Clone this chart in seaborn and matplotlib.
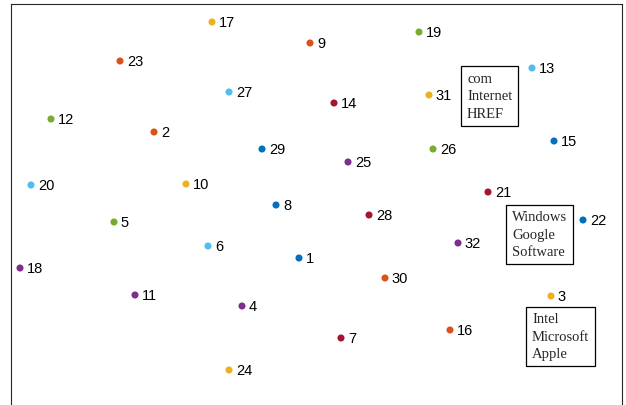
import matplotlib
matplotlib.use("Agg")
import matplotlib.pyplot as plt
import seaborn as sns
import pandas as pd

# Point ids and their positions
ids = list(range(1, 33))
x = [299, 154, 551, 242, 114, 208, 341, 276, 310, 186, 135, 51, 532, 334, 554, 450,
     212, 20, 419, 31, 488, 583, 120, 229, 348, 433, 229, 369, 262, 385, 429, 458]
y = [258, 132, 296, 306, 222, 246, 338, 205, 43, 184, 295, 119, 68, 103, 141, 330,
     22, 268, 32, 185, 192, 220, 61, 370, 162, 149, 92, 215, 149, 278, 95, 243]

# Word boxes
box_texts = ["com\nInternet\nHREF", "Windows\nGoogle\nSoftware", "Intel\nMicrosoft\nApple"]
box_x = [467, 512, 532]
box_y = [72, 210.5, 312.5]

matlab_colors = ["#0072BD", "#D95319", "#EDB120", "#7E2F8E",
                 "#77AC30", "#4DBEEE", "#A2142F"]

df = pd.DataFrame({"id": ids, "x": x, "y": y})
df["group"] = (df["id"] - 1) % 7

sns.set_style("white")
plt.rcParams["font.family"] = ["Liberation Sans", "DejaVu Sans"]

fig = plt.figure(figsize=(6.26, 4.06), dpi=100)
ax = fig.add_axes([11 / 626, -4 / 406, 611 / 626, 405 / 406])

sns.scatterplot(data=df, x="x", y="y", hue="group", palette=matlab_colors,
                s=26, linewidth=0, legend=False, ax=ax)

for _, r in df.iterrows():
    ax.annotate(str(r["id"]), (r["x"], r["y"]), xytext=(5, 0),
                textcoords="offset points", ha="left", va="center",
                fontsize=10.5, color="black")

for t, bx, by in zip(box_texts, box_x, box_y):
    ax.text(bx, by, t, ha="left", va="top", fontsize=10.5,
            family=["Liberation Serif", "DejaVu Serif"], linespacing=1.45,
            bbox=dict(boxstyle="square,pad=0.4", facecolor="white",
                      edgecolor="black", linewidth=0.9))

ax.set_xlim(11, 622)
ax.set_ylim(409, 4)
ax.set_xticks([])
ax.set_yticks([])
ax.set_xlabel("")
ax.set_ylabel("")
for sp in ax.spines.values():
    sp.set_color("#262626")
    sp.set_linewidth(0.8)

fig.savefig("out.png", dpi=100)
